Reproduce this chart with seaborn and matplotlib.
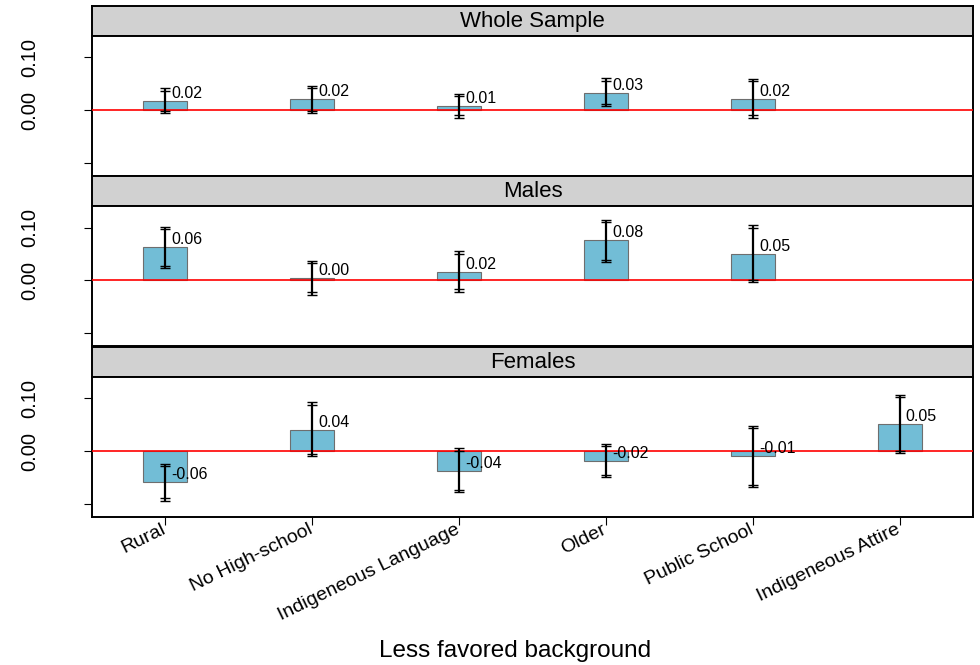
import numpy as np
import pandas as pd
import matplotlib
matplotlib.use("Agg")
import matplotlib.pyplot as plt
import matplotlib.transforms as mtransforms
import seaborn as sns

# Categories of disadvantaged background and the three samples
categories = ["Rural", "No High-school", "Indigeneous Language", "Older",
              "Public School", "Indigeneous Attire"]
groups = ["Whole Sample", "Males", "Females"]

# Point estimates and confidence bounds (NaN = not estimated)
whole_est = [0.018, 0.021, 0.008, 0.033, 0.021, np.nan]
whole_lo = [-0.006, -0.006, -0.014, 0.008, -0.014, np.nan]
whole_hi = [0.041, 0.046, 0.031, 0.060, 0.059, np.nan]

males_est = [0.063, 0.004, 0.016, 0.076, 0.050, np.nan]
males_lo = [0.024, -0.027, -0.021, 0.035, -0.003, np.nan]
males_hi = [0.101, 0.037, 0.055, 0.115, 0.104, np.nan]

females_est = [-0.059, 0.040, -0.037, -0.018, -0.010, 0.051]
females_lo = [-0.094, -0.010, -0.078, -0.049, -0.068, -0.004]
females_hi = [-0.025, 0.092, 0.005, 0.013, 0.047, 0.106]

frames = []
for g, est, lo, hi in [("Whole Sample", whole_est, whole_lo, whole_hi),
                       ("Males", males_est, males_lo, males_hi),
                       ("Females", females_est, females_lo, females_hi)]:
    frames.append(pd.DataFrame({"group": g, "category": categories,
                                "estimate": est, "lower": lo, "upper": hi}))
df = pd.concat(frames, ignore_index=True).dropna()

sns.set_style("ticks")
plt.rcParams["font.family"] = ["Liberation Sans", "DejaVu Sans"]
plt.rcParams.update({"text.color": "black", "xtick.color": "black",
                     "ytick.color": "black", "axes.labelcolor": "black",
                     "axes.edgecolor": "black"})

W, H = 980, 665
fig = plt.figure(figsize=(W / 100, H / 100), dpi=100)


def fig_rect(x0, y0, x1, y1):
    """Pixel box (top-left origin) -> figure fraction rectangle."""
    return [x0 / W, 1 - y1 / H, (x1 - x0) / W, (y1 - y0) / H]


X0, X1 = 92, 973
panels = [(5.7, 35.7, 175.7), (175.7, 206.0, 346.0), (346.7, 376.7, 516.5)]

BAR_COLOR = "#72BDD6"
EDGE_COLOR = "#6E6E6E"
LW_BOX = 1.4

for k, (g, (s0, a0, a1)) in enumerate(zip(groups, panels)):
    # strip with the sample name
    sax = fig.add_axes(fig_rect(X0, s0, X1, a0))
    sax.set_facecolor("#D1D1D1")
    sax.set_xticks([])
    sax.set_yticks([])
    for sp in sax.spines.values():
        sp.set_color("black")
        sp.set_linewidth(LW_BOX)
    sax.text(0.5, 0.47, g, ha="center", va="center", fontsize=16,
             color="black", transform=sax.transAxes)

    ax = fig.add_axes(fig_rect(X0, a0, X1, a1))
    sub = df[df["group"] == g]
    sns.barplot(data=sub, x="category", y="estimate", order=categories,
                color=BAR_COLOR, saturation=1, width=0.3, edgecolor=EDGE_COLOR,
                linewidth=0.8, errorbar=None, ax=ax, zorder=2)

    ax.axhline(0, color="#FF0000", lw=1.2, zorder=3)

    xpos = np.array([categories.index(c) for c in sub["category"]])
    est = sub["estimate"].to_numpy()
    lo = sub["lower"].to_numpy()
    hi = sub["upper"].to_numpy()
    ax.errorbar(xpos, est, yerr=[est - lo, hi - est], fmt="none",
                ecolor="black", elinewidth=1.6, capsize=3.3, capthick=1.0,
                zorder=4)
    # second, slightly inset cap at each end
    down = mtransforms.offset_copy(ax.transData, fig=fig, x=0, y=-1.6,
                                   units="points")
    up = mtransforms.offset_copy(ax.transData, fig=fig, x=0, y=1.6,
                                 units="points")
    ax.plot(xpos, hi, ls="none", marker="_", ms=6.6, mew=1.0, color="black",
            transform=down, zorder=4)
    ax.plot(xpos, lo, ls="none", marker="_", ms=6.6, mew=1.0, color="black",
            transform=up, zorder=4)

    for xi, v in zip(xpos, est):
        ax.annotate(f"{v:.2f}", (xi, v), xytext=(4.5, 0),
                    textcoords="offset points", ha="left", va="bottom",
                    fontsize=11.5, color="black", zorder=5)

    ax.set_xlim(-0.5, 5.5)
    ax.set_ylim(-0.124, 0.1407)
    ax.set_yticks([-0.10, 0.0, 0.10])
    ax.set_yticklabels(["", "0.00", "0.10"], rotation=90, va="center",
                       fontsize=14.5)
    ax.tick_params(axis="y", length=5.8, width=0.8, pad=32, color="black",
                   labelcolor="black")
    ax.set_xlabel("")
    ax.set_ylabel("")
    for sp in ax.spines.values():
        sp.set_color("black")
        sp.set_linewidth(LW_BOX)

    if k < 2:
        ax.tick_params(axis="x", bottom=False, labelbottom=False)
    else:
        ax.set_xticks(range(len(categories)))
        ax.set_xticklabels(categories, rotation=26, ha="right",
                           rotation_mode="anchor", va="top", fontsize=14)
        ax.tick_params(axis="x", length=5.8, width=0.8, pad=1, color="black",
                       labelcolor="black")
        shift = mtransforms.ScaledTranslation(-4 / 100, 5 / 100,
                                              fig.dpi_scale_trans)
        for lab in ax.get_xticklabels():
            lab.set_transform(lab.get_transform() + shift)

fig.text(515.5 / W, 1 - 656.7 / H, "Less favored background", ha="center",
         va="baseline", fontsize=17.5, color="black")

fig.savefig("out.png", dpi=100)
